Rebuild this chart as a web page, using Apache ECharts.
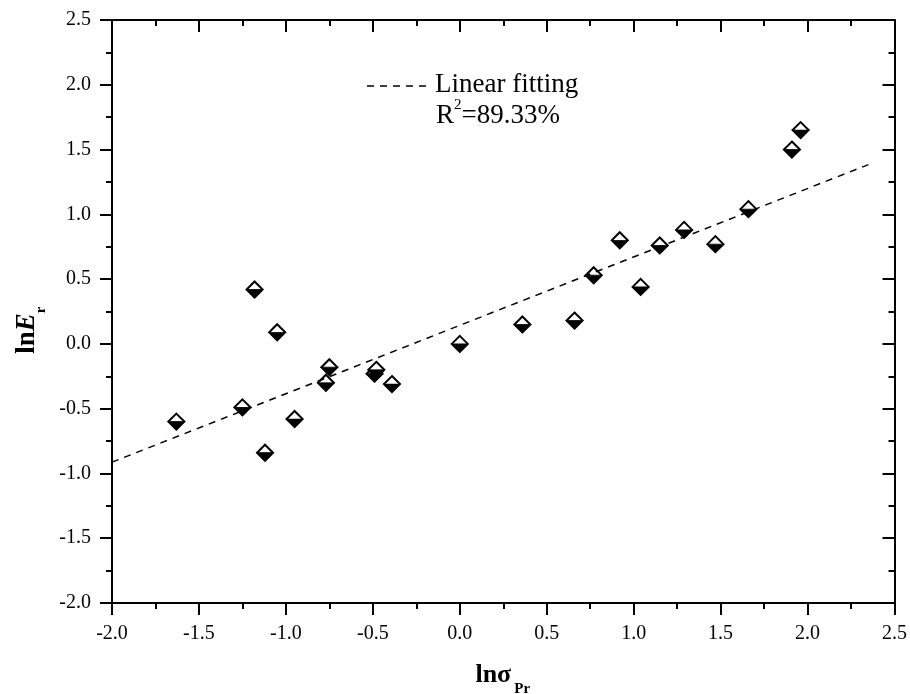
<!DOCTYPE html>
<html><head><meta charset="utf-8">
<script src="https://cdn.jsdelivr.net/npm/echarts@6/dist/echarts.min.js"></script>
<style>html,body{margin:0;padding:0;background:#fff}#c{width:910px;height:694px}</style>
</head><body><div id="c"></div>
<script>
// data
const xValues = [-1.63,-1.25,-1.18,-1.12,-1.05,-0.95,-0.77,-0.75,-0.49,-0.48,-0.39,0.00,0.36,0.66,0.77,0.92,1.04,1.15,1.29,1.47,1.66,1.91,1.96];
const yValues = [-0.60,-0.49,0.42,-0.84,0.09,-0.58,-0.30,-0.18,-0.23,-0.20,-0.31,0.00,0.15,0.18,0.53,0.80,0.44,0.76,0.88,0.77,1.04,1.50,1.65];
const fitX = [-2.0, 2.35];
const fitY = [-0.913, 1.384];
const xRange = [-2.0, 2.5];
const yRange = [-2.0, 2.5];
const tickStep = 0.5;
const legendLabel = 'Linear fitting';
const r2Value = '89.33%';

const points = xValues.map((x, i) => [x, yValues[i]]);
const fitLine = fitX.map((x, i) => [x, fitY[i]]);

const FONT = '"Liberation Serif", "Times New Roman", serif';
const axisCommon = {
  type: 'value', interval: tickStep, splitLine: {show: false},
  axisLine: {show: true, onZero: false, lineStyle: {color: '#000', width: 2}},
  minorTick: {show: true, splitNumber: 2, length: 6, lineStyle: {color: '#000', width: 2}},
  minorSplitLine: {show: false}
};
function mainAxis(pos, range) {
  return Object.assign({}, axisCommon, {
    position: pos, min: range[0], max: range[1],
    axisTick: {show: true, inside: false, length: 12, lineStyle: {color: '#000', width: 2}},
    axisLabel: {show: true, margin: 21, color: '#000', fontFamily: FONT, fontSize: 20,
      formatter: v => v.toFixed(1)}
  });
}
function mirrorAxis(pos, range) {
  return Object.assign({}, axisCommon, {
    position: pos, min: range[0], max: range[1],
    axisTick: {show: true, inside: true, length: 12, lineStyle: {color: '#000', width: 2}},
    axisLabel: {show: false}
  });
}

const chart = echarts.init(document.getElementById('c'), null, {renderer: 'canvas'});
chart.setOption({
  animation: false,
  backgroundColor: '#fff',
  grid: {left: 112, right: 15, top: 20, bottom: 91, containLabel: false},
  xAxis: [mainAxis('bottom', xRange), mirrorAxis('top', xRange)],
  yAxis: [mainAxis('left', yRange), mirrorAxis('right', yRange)],
  series: [
    {type: 'scatter', data: points, symbol: 'diamond', symbolSize: 16, z: 2,
      itemStyle: {color: '#fff', borderColor: '#000', borderWidth: 2, opacity: 1}},
    {type: 'scatter', data: points, symbol: 'path://M0,0L2,0L1,1Z', symbolSize: [16, 8],
      symbolOffset: [0, 4], z: 3,
      itemStyle: {color: '#000', borderColor: '#000', borderWidth: 1, opacity: 1}},
    {type: 'line', data: fitLine, symbol: 'none', z: 4,
      lineStyle: {color: '#000', width: 1.5, type: [7, 6]}}
  ],
  graphic: [
    {type: 'line', shape: {x1: 367, y1: 86, x2: 430, y2: 86},
      style: {stroke: '#000', lineWidth: 1.5, lineDash: [7, 6]}},
    {type: 'text', x: 435, y: 85,
      style: {text: legendLabel, fontFamily: FONT, fontSize: 27, fill: '#000',
        align: 'left', verticalAlign: 'middle'}},
    {type: 'text', x: 436, y: 98,
      style: {text: '{a|R}{s|2}{a|=' + r2Value + '}{p| }', align: 'left', verticalAlign: 'top',
        rich: {
          a: {fontFamily: FONT, fontSize: 27, lineHeight: 27, verticalAlign: 'bottom', fill: '#000'},
          s: {fontFamily: FONT, fontSize: 15, lineHeight: 15, verticalAlign: 'top', fill: '#000'},
          p: {fontFamily: FONT, fontSize: 2, lineHeight: 31, verticalAlign: 'top'}
        }}},
    {type: 'text', x: 503, y: 662,
      style: {text: '{a|lnσ}{b|Pr}{p| }', align: 'center', verticalAlign: 'top',
        rich: {
          a: {fontFamily: FONT, fontSize: 26, fontWeight: 'bold', lineHeight: 26, verticalAlign: 'top', fill: '#000'},
          b: {fontFamily: FONT, fontSize: 15, fontWeight: 'bold', lineHeight: 15, verticalAlign: 'bottom', fill: '#000', padding: [0, 0, 0, 3]},
          p: {fontFamily: FONT, fontSize: 2, lineHeight: 35, verticalAlign: 'top'}
        }}},
    {type: 'text', x: 14, y: 330, rotation: Math.PI / 2,
      style: {text: '{a|ln}{e|E}{b|r}{p| }', align: 'center', verticalAlign: 'top',
        rich: {
          a: {fontFamily: FONT, fontSize: 27, fontWeight: 'bold', lineHeight: 27, verticalAlign: 'top', fill: '#000'},
          e: {fontFamily: FONT, fontSize: 27, fontWeight: 'bold', fontStyle: 'italic', lineHeight: 27, verticalAlign: 'top', fill: '#000'},
          b: {fontFamily: FONT, fontSize: 15, fontWeight: 'bold', lineHeight: 15, verticalAlign: 'bottom', fill: '#000'},
          p: {fontFamily: FONT, fontSize: 2, lineHeight: 35, verticalAlign: 'top'}
        }}}
  ]
});
</script></body></html>
